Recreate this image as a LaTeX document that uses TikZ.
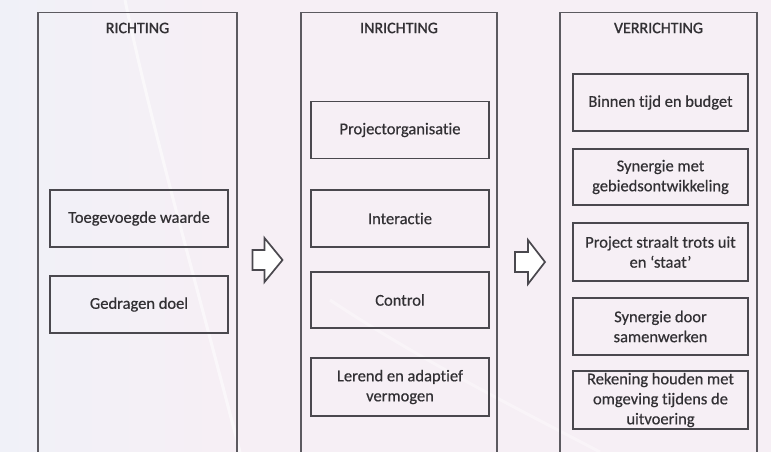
\documentclass[tikz,border=0pt]{standalone}
\usepackage{fontspec}
\setmainfont{Carlito}[Ligatures={TeX,NoCommon}, FakeBold=0.5]
\newfontfamily\titlefont{Carlito}[Ligatures={TeX,NoCommon}, FakeBold=1.2]
\usetikzlibrary{positioning}

\definecolor{bgbase}{RGB}{246,239,245}
\definecolor{bgleft}{RGB}{240,241,248}
\definecolor{framecol}{RGB}{92,90,96}
\definecolor{boxcol}{RGB}{74,72,78}
\definecolor{txtcol}{RGB}{50,48,52}

\tikzset{
  col/.style={draw=framecol, line width=1.5pt, rectangle, anchor=north,
    minimum height=470pt, inner sep=0pt},
  coltitle/.style={text=txtcol, font=\titlefont\fontsize{16}{19}\selectfont, inner sep=0pt},
  itembox/.style={draw=boxcol, line width=1.9pt, rectangle, align=center,
    minimum height=57pt, inner sep=2pt, text=txtcol,
    font=\fontsize{16.5}{20}\selectfont},
  blockarrow/.style={draw=boxcol, line width=1.7pt, fill=white, line join=miter},
  softline/.style={white, line width=3pt, opacity=0.55},
}

\begin{document}
\begin{tikzpicture}[x=1pt, y=-1pt]
  % page and soft presentation background
  \useasboundingbox (0,0) rectangle (771,452);
  \clip (0,0) rectangle (771,452);
  \fill[bgbase] (0,0) rectangle (771,452);
  \shade[left color=bgleft, right color=bgbase] (0,0) rectangle (220,452);
  \draw[softline] (125,0) .. controls (150,120) and (190,260) .. (240,452);
  \draw[softline, opacity=0.35] (330,300) .. controls (420,360) and (520,410) .. (600,452);

  % three columns
  \node[col, minimum width=199pt] (c1) at (137.5,12) {};
  \node[col, minimum width=196pt] (c2) at (399,12) {};
  \node[col, minimum width=197pt] (c3) at (658.5,12) {};

  \node[coltitle] (t1) at ([yshift=-16pt]c1.north) {RICHTING};
  \node[coltitle] (t2) at ([yshift=-16pt]c2.north) {INRICHTING};
  \node[coltitle] (t3) at ([yshift=-16pt]c3.north) {VERRICHTING};

  % RICHTING
  \node[itembox, minimum width=178pt] (r1) at (139,218.5) {Toegevoegde waarde};
  \node[itembox, minimum width=178pt] (r2) at (139,304.5) {Gedragen doel};

  % INRICHTING
  \node[itembox, minimum width=178pt] (i1) at (400,130) {Projectorganisatie};
  \node[itembox, minimum width=178pt] (i2) at (400,218.5) {Interactie};
  \node[itembox, minimum width=178pt, minimum height=56pt] (i3) at (400,300) {Control};
  \node[itembox, minimum width=178pt, minimum height=58pt] (i4) at (400,387) {Lerend en adaptief\\vermogen};

  % VERRICHTING
  \node[itembox, minimum width=175pt] (v1) at (660.5,102.5) {Binnen tijd en budget};
  \node[itembox, minimum width=175pt, minimum height=56pt] (v2) at (660.5,177) {Synergie met\\gebiedsontwikkeling};
  \node[itembox, minimum width=175pt, minimum height=58pt] (v3) at (660.5,252) {Project straalt trots uit\\en `staat'};
  \node[itembox, minimum width=175pt] (v4) at (660.5,326.5) {Synergie door\\samenwerken};
  \node[itembox, minimum width=175pt, minimum height=56pt] (v5) at (660.5,400) {Rekening houden met\\omgeving tijdens de\\uitvoering};

  % block arrows between the columns
  \coordinate (a1) at (252.5,260);
  \coordinate (a2) at (515,262);
  \draw[blockarrow] (a1) ++(0,-10) -- ++(12,0) -- ++(0,-12) -- ++(18,22)
      -- ++(-18,22) -- ++(0,-12) -- ++(-12,0) -- cycle;
  \draw[blockarrow] (a2) ++(0,-10) -- ++(13,0) -- ++(0,-12) -- ++(17,22)
      -- ++(-17,22) -- ++(0,-12) -- ++(-13,0) -- cycle;
\end{tikzpicture}
\end{document}
